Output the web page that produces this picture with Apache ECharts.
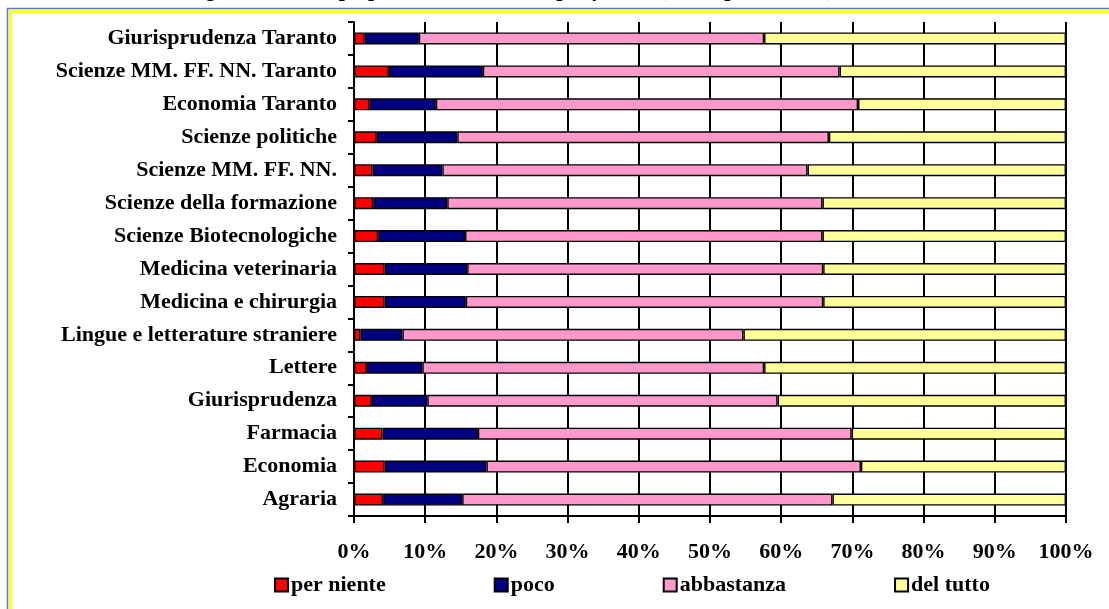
<!DOCTYPE html>
<html>
<head>
<meta charset="utf-8">
<script src="https://cdn.jsdelivr.net/npm/echarts@6/dist/echarts.min.js"></script>
<style>
  html, body { margin: 0; padding: 0; background: #ffffff; }
  #chart { width: 1109px; height: 609px; }
</style>
</head>
<body>
<div id="chart"></div>
<script>
// facoltà, dal basso verso l'alto (ordine dell'asse categorie)
const facolta = [
  'Agraria', 'Economia', 'Farmacia', 'Giurisprudenza', 'Lettere',
  'Lingue e letterature straniere', 'Medicina e chirurgia', 'Medicina veterinaria',
  'Scienze Biotecnologiche', 'Scienze della formazione', 'Scienze MM. FF. NN.',
  'Scienze politiche', 'Economia Taranto', 'Scienze MM. FF. NN. Taranto',
  'Giurisprudenza Taranto'
];

// valori %
const perNiente  = [4.1, 4.3, 4.0, 2.5, 1.8, 0.9, 4.3, 4.3, 3.4, 2.7, 2.6, 3.2, 2.2, 4.9, 1.5];
const poco       = [11.1, 14.3, 13.4, 7.8, 7.8, 5.9, 11.4, 11.6, 12.2, 10.4, 9.8, 11.3, 9.3, 13.2, 7.6];
const abbastanza = [52.0, 52.6, 52.5, 49.2, 48.0, 47.9, 50.2, 50.0, 50.2, 52.7, 51.3, 52.2, 59.3, 50.1, 48.5];
const delTutto   = [32.8, 28.8, 30.1, 40.5, 42.4, 45.3, 34.1, 34.1, 34.2, 34.2, 36.3, 33.3, 29.2, 31.8, 42.4];

const xTicks = [0, 10, 20, 30, 40, 50, 60, 70, 80, 90, 100];

const FONT = '"Liberation Serif", "Times New Roman", serif';

function barSeries(name, data, color) {
  return {
    name,
    type: 'bar',
    stack: 'tot',
    data,
    barWidth: 12,
    itemStyle: { color, borderColor: '#000000', borderWidth: 1.4 },
    emphasis: { disabled: true }
  };
}

const chart = echarts.init(document.getElementById('chart'));

chart.setOption({
  backgroundColor: '#ffffff',
  animation: false,
  graphic: [
    {
      type: 'text',
      x: 836,
      y: 1.5,
      style: {
        text: 'Grado di adeguatezza della preparazione scolastica per facoltà (valori percentuali)',
        font: 'italic bold 22px ' + FONT,
        fill: '#000000',
        align: 'right',
        verticalAlign: 'bottom'
      }
    },
    {
      type: 'rect',
      shape: { x: 7.5, y: 8.5, width: 1200, height: 700 },
      style: { fill: '#ffffff', stroke: '#4f81bd', lineWidth: 1.5 },
      z: -10
    },
    {
      type: 'rect',
      shape: { x: 10.5, y: 11.5, width: 1200, height: 700 },
      style: { fill: 'none', stroke: '#ffff00', lineWidth: 2.5 },
      z: -9
    }
  ],
  grid: { left: 354, right: 43, top: 22, bottom: 93, containLabel: false },
  legend: {
    left: 269,
    top: 569,
    icon: 'rect',
    itemWidth: 13,
    itemHeight: 13,
    itemGap: 108,
    selectedMode: false,
    textStyle: { fontFamily: FONT, fontSize: 22, fontWeight: 'bold', color: '#000000', padding: [0, 0, 0, -2] },
    data: ['per niente', 'poco', 'abbastanza', 'del tutto']
  },
  xAxis: {
    type: 'value',
    min: xTicks[0],
    max: xTicks[xTicks.length - 1],
    interval: 10,
    axisLine: { show: true, lineStyle: { color: '#000000', width: 2 } },
    axisTick: { show: true, length: 7, lineStyle: { color: '#000000', width: 2 } },
    axisLabel: {
      margin: 25,
      formatter: '{value}%',
      fontFamily: FONT,
      fontSize: 22,
      fontWeight: 'bold',
      color: '#000000'
    },
    splitLine: { show: true, lineStyle: { color: '#000000', width: 2 } }
  },
  yAxis: {
    type: 'category',
    data: facolta,
    axisLine: { show: true, lineStyle: { color: '#000000', width: 2 } },
    axisTick: { show: true, length: 6, lineStyle: { color: '#000000', width: 2 } },
    axisLabel: {
      margin: 17,
      fontFamily: FONT,
      fontSize: 22,
      fontWeight: 'bold',
      color: '#000000'
    },
    splitLine: { show: false }
  },
  series: [
    barSeries('per niente', perNiente, '#ff0000'),
    barSeries('poco', poco, '#000080'),
    barSeries('abbastanza', abbastanza, '#ff99cc'),
    barSeries('del tutto', delTutto, '#ffff99')
  ]
});
</script>
</body>
</html>
